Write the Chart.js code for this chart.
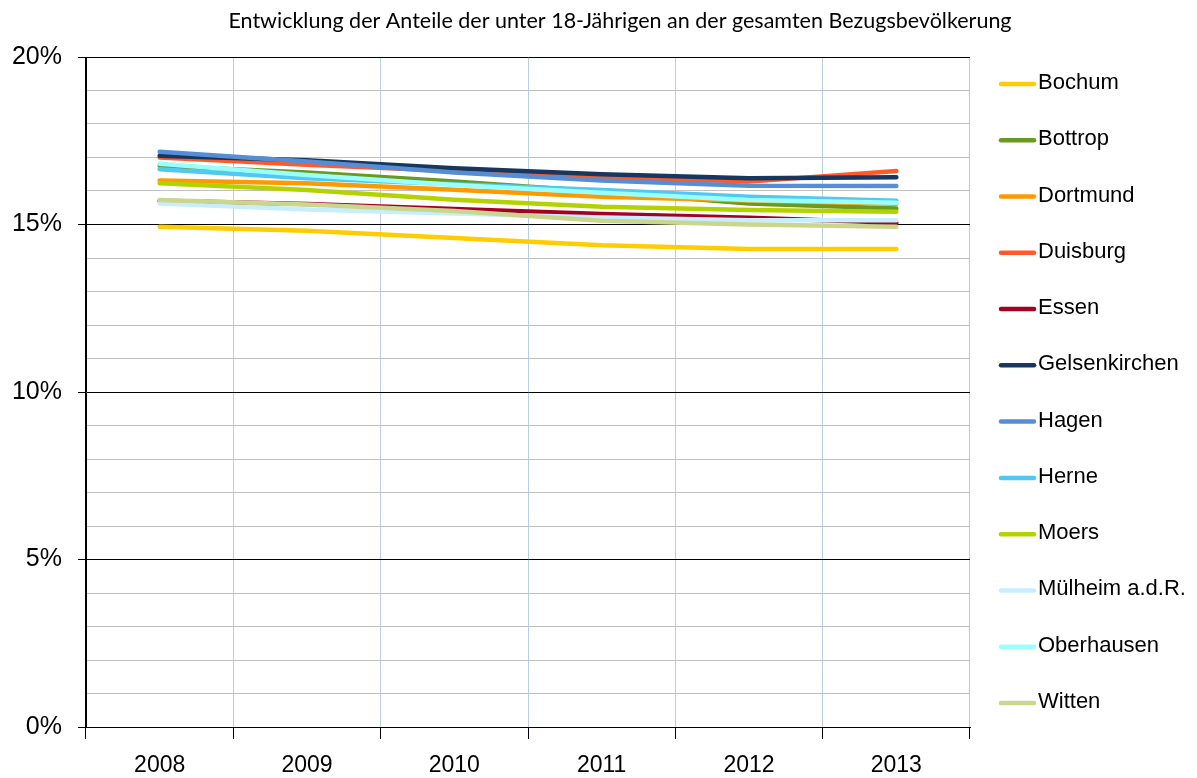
<!DOCTYPE html>
<html>
<head>
<meta charset="utf-8">
<script src="https://cdn.jsdelivr.net/npm/chart.js@4/dist/chart.umd.min.js"></script>
<style>
  html, body { margin: 0; padding: 0; background: #fff; }
  #wrap { width: 1197px; height: 778px; }
</style>
</head>
<body>
<div id="wrap"><canvas id="lineChart" width="1197" height="778"></canvas></div>
<script>
const years = ['2008', '2009', '2010', '2011', '2012', '2013'];
const cities = ['Bochum', 'Bottrop', 'Dortmund', 'Duisburg', 'Essen', 'Gelsenkirchen',
    'Hagen', 'Herne', 'Moers', 'Mülheim a.d.R.', 'Oberhausen', 'Witten'];

// Anteil unter 18-Jährige in %
const bochum = [14.93, 14.81, 14.60, 14.38, 14.27, 14.27];
const bottrop = [16.75, 16.55, 16.28, 15.98, 15.63, 15.48];
const dortmund = [16.31, 16.23, 16.04, 15.83, 15.72, 15.62];
const duisburg = [17.00, 16.78, 16.60, 16.42, 16.28, 16.60];
const essen = [15.71, 15.61, 15.46, 15.31, 15.20, 15.05];
const gelsenkirchen = [17.05, 16.92, 16.68, 16.50, 16.38, 16.41];
const hagen = [17.17, 16.88, 16.55, 16.31, 16.16, 16.15];
const herne = [16.65, 16.38, 16.20, 16.03, 15.83, 15.71];
const moers = [16.23, 16.03, 15.74, 15.53, 15.43, 15.38];
const muelheim = [15.63, 15.45, 15.33, 15.21, 15.13, 15.13];
const oberhausen = [16.81, 16.48, 16.18, 15.95, 15.73, 15.65];
const witten = [15.73, 15.60, 15.40, 15.11, 15.00, 14.93];

const seriesValues = [bochum, bottrop, dortmund, duisburg, essen, gelsenkirchen,
    hagen, herne, moers, muelheim, oberhausen, witten];
const seriesColors = ['#FFCC00', '#679A1E', '#FF9900', '#FF5A28', '#A50021', '#17375E',
    '#558ED5', '#4FC8F2', '#B3D300', '#C6EEFF', '#99FFFF', '#CAD68E'];

const yTicks = [0, 5, 10, 15, 20];

const titleText = 'Entwicklung der Anteile der unter 18-Jährigen an der gesamten Bezugsbevölkerung';

const sideLegend = {
    id: 'sideLegend',
    afterDraw(chart) {
        const ctx = chart.ctx;
        ctx.save();
        // title
        ctx.font = '21.5px Lato';
        ctx.fillStyle = '#000';
        ctx.textAlign = 'center';
        ctx.textBaseline = 'middle';
        ctx.fillText(titleText, 620, 21);
        // legend
        ctx.font = '22px "Liberation Sans", Arial';
        ctx.textAlign = 'left';
        chart.data.datasets.forEach((ds, i) => {
            const y = 83 + i * 56.27;
            ctx.strokeStyle = ds.borderColor;
            ctx.lineWidth = 4.5;
            ctx.lineCap = 'round';
            ctx.beginPath();
            ctx.moveTo(1001, y + 1);
            ctx.lineTo(1034, y + 1);
            ctx.stroke();
            ctx.fillStyle = '#000';
            ctx.fillText(ds.label, 1038, y);
        });
        ctx.restore();
    }
};

const ctx = document.getElementById('lineChart').getContext('2d');
new Chart(ctx, {
    type: 'line',
    data: {
        labels: years,
        datasets: cities.map((c, i) => ({
            label: c,
            data: seriesValues[i],
            borderColor: seriesColors[i],
            backgroundColor: seriesColors[i],
            borderWidth: 4.5,
            borderCapStyle: 'round',
            borderJoinStyle: 'round',
            pointRadius: 0,
            tension: 0,
            order: cities.length - i
        }))
    },
    options: {
        responsive: false,
        animation: false,
        layout: { padding: { top: 57, right: 227, left: 0, bottom: 0 } },
        plugins: {
            legend: { display: false },
            tooltip: { enabled: false }
        },
        scales: {
            x: {
                offset: true,
                grid: {
                    offset: true,
                    color: c => (c.index === 0 || c.index === years.length) ? '#000' : '#B9CDE5',
                    tickColor: '#000',
                    tickLength: 12
                },
                border: { color: '#000', width: 1 },
                ticks: {
                    color: '#000',
                    padding: 13,
                    font: { family: '"Liberation Sans", Arial', size: 23 }
                },
                afterFit: s => { s.height = 51; }
            },
            y: {
                min: 0,
                max: 20,
                ticks: {
                    stepSize: 1,
                    color: '#000',
                    padding: 16,
                    font: { family: '"Liberation Sans", Arial', size: 25 },
                    callback: v => yTicks.includes(v) ? v + '%' : ''
                },
                grid: {
                    color: c => yTicks.includes(c.tick.value) ? '#000' : '#C0C0C0',
                    tickColor: c => yTicks.includes(c.tick.value) ? '#000' : 'rgba(0,0,0,0)',
                    tickLength: 8
                },
                border: { color: '#000', width: 1 },
                afterFit: s => { s.width = 86; }
            }
        }
    },
    plugins: [sideLegend]
});
</script>
</body>
</html>
